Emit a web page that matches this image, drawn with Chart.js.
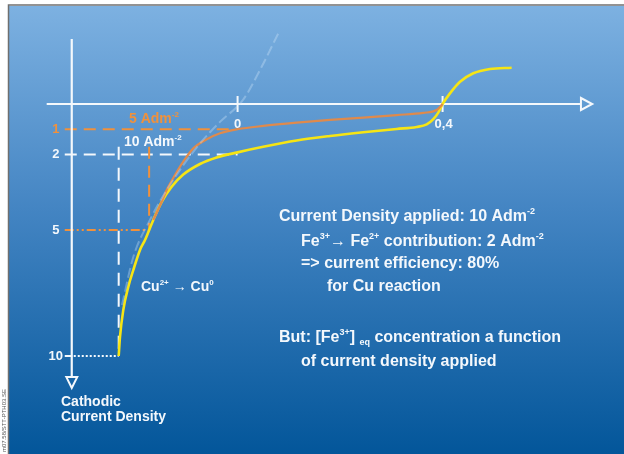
<!DOCTYPE html>
<html>
<head>
<meta charset="utf-8">
<script src="https://cdn.jsdelivr.net/npm/chart.js@4/dist/chart.umd.min.js"></script>
<style>
  html, body { margin: 0; padding: 0; background: #ffffff; overflow: hidden; }
  canvas { display: block; }
</style>
</head>
<body>
<canvas id="polarisation" width="624" height="454"></canvas>
<script>
// Electrode potential (x) against cathodic current density in A/dm² (y, growing downwards)
const potentialTicks = [0, 0.4];
const potentialTickLabels = ['0', '0,4'];
const currentTicks = [1, 2, 5, 10];
const currentTickLabels = ['1', '2', '5', '10'];

// Total cathodic curve: Cu deposition plus Fe3+ reduction
const totalPotential = [-0.232, -0.2295, -0.223, -0.2133, -0.2035, -0.1904, -0.1807, -0.1645, -0.1481, -0.1286,
  -0.106, -0.0734, -0.0408, 0.0, 0.05, 0.1153, 0.1803, 0.2453, 0.3104, 0.3495, 0.369, 0.3819, 0.3916, 0.4,
  0.4144, 0.434, 0.4599, 0.4925, 0.5348];
const totalCurrent = [10, 9.25, 8.17, 7.26, 6.59, 5.79, 5.4, 4.6, 3.88, 3.28,
  2.8, 2.38, 2.12, 1.92, 1.7, 1.45, 1.27, 1.12, 0.99, 0.91, 0.81, 0.6, 0.34, 0.0,
  -0.42, -0.88, -1.22, -1.39, -1.44];

// Curve without the Fe3+ contribution
const copperPotential = [-0.1645, -0.1481, -0.1383, -0.1221, -0.106, -0.0864, -0.0603, -0.0343, 0.0, 0.0501,
  0.1153, 0.1803, 0.2453, 0.3104, 0.3623, 0.3885, 0.4];
const copperCurrent = [4.6, 3.88, 3.41, 2.82, 2.29, 1.76, 1.4, 1.16, 1.0, 0.87,
  0.74, 0.63, 0.54, 0.44, 0.35, 0.24, 0.0];

// Extrapolated Cu2+ -> Cu0 branch
const tafelPotential = [-0.2256, -0.2035, -0.171, -0.1358, -0.0792, -0.0343, 0.0105, 0.0437, 0.0808];
const tafelCurrent = [7.98, 6.07, 4.6, 3.33, 1.71, 0.71, -0.16, -1.35, -2.86];

// Reference levels
const copperAtZero = 1;      // "5 Adm-2" case, read at potential 0
const totalAtZero = 2;       // "10 Adm-2" case, read at potential 0
const copperOnlyLevel = 5;
const appliedLevel = 10;
const guideTop = 1.7;        // verticals stop just under the case labels

const FONT = '"Liberation Sans", Arial, Helvetica, sans-serif';
const WHITE = '#f4f8fc';
const ORANGE = '#f0913c';

function points(xs, ys) { return xs.map((x, i) => ({ x: x, y: ys[i] })); }

// Potential at which a curve reaches a given current density
function potentialAt(xs, ys, level) {
  for (let i = 0; i < xs.length - 1; i++) {
    const a = ys[i], b = ys[i + 1];
    if ((a - level) * (b - level) <= 0 && a !== b) {
      const t = (level - a) / (b - a);
      return xs[i] + t * (xs[i + 1] - xs[i]);
    }
  }
  return xs[0];
}

function drawRich(ctx, parts, x, y, size, color) {
  ctx.fillStyle = color;
  ctx.textBaseline = 'middle';
  ctx.textAlign = 'left';
  let cx = x;
  for (const [t, kind] of parts) {
    let s = size, dy = 0;
    if (kind === 'sup') { s = Math.round(size * 0.55); dy = -size * 0.33; }
    if (kind === 'sub') { s = Math.round(size * 0.55); dy = size * 0.28; }
    ctx.font = 'bold ' + s + 'px ' + FONT;
    ctx.fillText(t, cx, y + dy);
    cx += ctx.measureText(t).width;
  }
}

function line(ctx, x1, y1, x2, y2, color, width, dash) {
  ctx.save();
  ctx.strokeStyle = color;
  ctx.lineWidth = width;
  ctx.setLineDash(dash || []);
  ctx.beginPath();
  ctx.moveTo(x1, y1);
  ctx.lineTo(x2, y2);
  ctx.stroke();
  ctx.restore();
}

const backdrop = {
  id: 'backdrop',
  beforeDraw(chart) {
    const ctx = chart.ctx;
    const w = chart.width, h = chart.height;
    ctx.save();
    ctx.fillStyle = '#ffffff';
    ctx.fillRect(0, 0, w, h);
    const g = ctx.createLinearGradient(0, 6, 0, h);
    g.addColorStop(0, '#7db1e1');
    g.addColorStop(0.45, '#4485c3');
    g.addColorStop(1, '#03569a');
    ctx.fillStyle = g;
    ctx.fillRect(9, 6, w - 9, h - 6);
    ctx.strokeStyle = '#6f6f6f';
    ctx.lineWidth = 1.5;
    ctx.beginPath();
    ctx.moveTo(8.5, h);
    ctx.lineTo(8.5, 5);
    ctx.lineTo(w, 5);
    ctx.stroke();
    // print reference along the left margin
    ctx.translate(4.5, 452);
    ctx.rotate(-Math.PI / 2);
    ctx.fillStyle = '#555555';
    ctx.font = '6px ' + FONT;
    ctx.textBaseline = 'middle';
    ctx.fillText('m07.58/STT-PTH03.SE', 0, 0);
    ctx.restore();
  }
};

const axesAndGuides = {
  id: 'axesAndGuides',
  beforeDatasetsDraw(chart) {
    const ctx = chart.ctx;
    const xs = chart.scales.x, ys = chart.scales.y;
    const X = v => xs.getPixelForValue(v);
    const Y = v => ys.getPixelForValue(v);
    const axisX = X(-0.3236);
    const axisY = Y(0);
    const start = axisX - 7;

    // guide lines
    const zeroPotential = potentialTicks[0];
    const xTotal5 = potentialAt(totalPotential, totalCurrent, copperOnlyLevel);
    const xTotal10 = potentialAt(totalPotential, totalCurrent, appliedLevel);

    line(ctx, start, Y(copperAtZero), X(zeroPotential) - 4, Y(copperAtZero), ORANGE, 2, [12, 7]);
    line(ctx, start, Y(totalAtZero), X(zeroPotential), Y(totalAtZero), WHITE, 2, [12, 7]);
    line(ctx, start, Y(copperOnlyLevel), X(xTotal5), Y(copperOnlyLevel), ORANGE, 2, [9, 3, 2, 3, 2, 3]);
    line(ctx, X(xTotal5), Y(guideTop), X(xTotal5), Y(copperOnlyLevel), ORANGE, 2, [12, 7]);
    line(ctx, X(xTotal10), Y(guideTop), X(xTotal10), Y(appliedLevel), WHITE, 2, [13, 8]);
    line(ctx, start, Y(appliedLevel), axisX, Y(appliedLevel), WHITE, 2);
    line(ctx, axisX + 2, Y(appliedLevel), X(xTotal10), Y(appliedLevel), WHITE, 2, [2, 2]);

    // potential axis with open arrow head
    const xLeft = X(-0.3725), xEnd = X(0.670), xTip = X(0.692);
    line(ctx, xLeft, axisY, xEnd, axisY, WHITE, 2.2);
    ctx.save();
    ctx.strokeStyle = WHITE;
    ctx.lineWidth = 2;
    ctx.beginPath();
    ctx.moveTo(xEnd, axisY - 6);
    ctx.lineTo(xTip, axisY);
    ctx.lineTo(xEnd, axisY + 6);
    ctx.closePath();
    ctx.stroke();
    ctx.restore();

    // current density axis, pointing down
    const yTop = Y(-2.58), yEnd = Y(10.83), yTip = Y(11.27);
    line(ctx, axisX, yTop, axisX, yEnd, WHITE, 2.2);
    ctx.save();
    ctx.strokeStyle = WHITE;
    ctx.lineWidth = 2;
    ctx.beginPath();
    ctx.moveTo(axisX - 5.5, yEnd);
    ctx.lineTo(axisX, yTip);
    ctx.lineTo(axisX + 5.5, yEnd);
    ctx.closePath();
    ctx.stroke();
    ctx.restore();

    // potential ticks
    ctx.save();
    ctx.font = 'bold 13px ' + FONT;
    ctx.textAlign = 'center';
    ctx.textBaseline = 'middle';
    potentialTicks.forEach((v, i) => {
      line(ctx, X(v), axisY - 8, X(v), axisY + 8, WHITE, 2);
      ctx.fillStyle = WHITE;
      ctx.fillText(potentialTickLabels[i], X(v) + (i ? 1 : 0), axisY + 20);
    });
    // current density labels
    currentTicks.forEach((v, i) => {
      ctx.fillStyle = v === copperAtZero ? ORANGE : WHITE;
      ctx.fillText(currentTickLabels[i], axisX - 16, Y(v));
    });
    ctx.restore();
  }
};

const annotations = {
  id: 'annotations',
  afterDatasetsDraw(chart) {
    const ctx = chart.ctx;
    ctx.save();
    drawRich(ctx, [['5 Adm', ''], ['-2', 'sup']], 129, 119, 14, ORANGE);
    drawRich(ctx, [['10 Adm', ''], ['-2', 'sup']], 124, 142, 14, WHITE);
    drawRich(ctx, [['Cu', ''], ['2+', 'sup'], [' \u2192 Cu', ''], ['0', 'sup']], 141, 287, 14, WHITE);
    drawRich(ctx, [['Cathodic', '']], 61, 402, 14, WHITE);
    drawRich(ctx, [['Current Density', '']], 61, 417, 14, WHITE);

    const s = 16;
    drawRich(ctx, [['Current Density applied: 10 Adm', ''], ['-2', 'sup']], 279, 217, s, WHITE);
    drawRich(ctx, [['Fe', ''], ['3+', 'sup'], ['\u2192 Fe', ''], ['2+', 'sup'], [' contribution: 2 Adm', ''], ['-2', 'sup']], 301, 242, s, WHITE);
    drawRich(ctx, [['=> current efficiency: 80%', '']], 301, 264, s, WHITE);
    drawRich(ctx, [['for Cu reaction', '']], 327, 287, s, WHITE);
    drawRich(ctx, [['But: [Fe', ''], ['3+', 'sup'], ['] ', ''], ['eq', 'sub'], [' concentration a function', '']], 279, 338, s, WHITE);
    drawRich(ctx, [['of current density applied', '']], 301, 362, s, WHITE);
    ctx.restore();
  }
};

new Chart(document.getElementById('polarisation'), {
  type: 'scatter',
  data: {
    datasets: [
      {
        data: points(tafelPotential, tafelCurrent),
        showLine: true,
        borderColor: 'rgba(205, 228, 250, 0.35)',
        borderWidth: 2,
        borderDash: [10, 4],
        pointRadius: 0,
        cubicInterpolationMode: 'monotone'
      },
      {
        data: points(copperPotential, copperCurrent),
        showLine: true,
        borderColor: '#df8a4c',
        borderWidth: 2.2,
        pointRadius: 0,
        cubicInterpolationMode: 'monotone'
      },
      {
        data: points(totalPotential, totalCurrent),
        showLine: true,
        borderColor: '#f6e514',
        borderWidth: 2.6,
        pointRadius: 0,
        cubicInterpolationMode: 'monotone'
      }
    ]
  },
  options: {
    responsive: false,
    animation: false,
    events: [],
    layout: { padding: 0 },
    plugins: { legend: { display: false }, tooltip: { enabled: false } },
    scales: {
      x: { type: 'linear', display: false, min: -0.4636, max: 0.7540 },
      y: { type: 'linear', display: false, reverse: true, min: -4.127, max: 13.889 }
    }
  },
  plugins: [backdrop, axesAndGuides, annotations]
});
</script>
</body>
</html>
